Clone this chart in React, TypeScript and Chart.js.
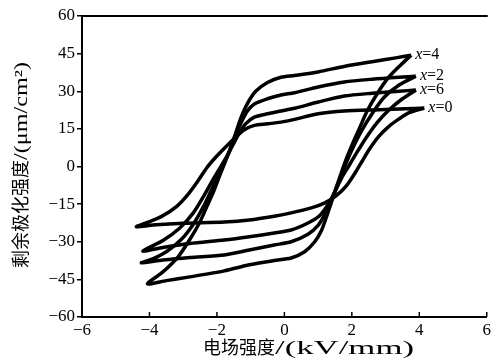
import React, { useEffect, useRef } from "react";
import { Chart, registerables } from "chart.js";

Chart.register(...registerables);

// ---- data ----
const xTickValues = [-6, -4, -2, 0, 2, 4, 6];
const yTickValues = [-60, -45, -30, -15, 0, 15, 30, 45, 60];
const loopNames = ["x=4", "x=2", "x=6", "x=0"];

const loopX4: number[][] = [
  [3.76, 44.4], [3.3, 43.3], [2.6, 41.8], [1.8, 40.0], [1.0, 37.7], [0.3, 36.3], [-0.1, 35.6],
  [-0.5, 33.5], [-0.85, 30], [-1.1, 25], [-1.3, 19], [-1.45, 13], [-1.6, 7], [-1.75, 2],
  [-1.9, -3], [-2.1, -10], [-2.3, -16], [-2.5, -22], [-2.8, -29], [-3.15, -36], [-3.6, -42],
  [-4.06, -46.8],
  [-3.5, -45.5], [-2.8, -44.0], [-1.78, -41.6], [-1.04, -39.2], [-0.3, -37.5], [0.2, -36.5],
  [0.6, -34], [0.9, -30], [1.1, -25.5], [1.25, -20], [1.4, -14], [1.55, -8], [1.7, -2],
  [1.85, 3.5], [2.05, 10], [2.25, 16], [2.45, 22], [2.75, 29], [3.1, 35.7], [3.45, 40.5],
  [3.76, 44.4],
];

const loopX2: number[][] = [
  [3.9, 36], [3.4, 35.6], [2.6, 34.8], [1.78, 33.7], [1.0, 31.7], [0.3, 29.4], [-0.1, 28.5],
  [-0.5, 27], [-0.89, 24.9], [-1.1, 22], [-1.3, 17], [-1.5, 11], [-1.65, 5.5], [-1.8, 1],
  [-1.95, -3.5], [-2.15, -9], [-2.4, -16], [-2.7, -23], [-3.05, -29], [-3.5, -34],
  [-3.9, -36.8], [-4.24, -38.4],
  [-3.6, -37.3], [-2.8, -36.3], [-1.78, -35.3], [-1.04, -33.3], [-0.3, -31.3], [0.2, -30],
  [0.7, -27], [1.0, -23.5], [1.2, -19], [1.4, -13.5], [1.55, -8], [1.7, -3], [1.85, 2],
  [2.05, 8], [2.3, 14.5], [2.6, 21], [2.95, 27.5], [3.4, 32.5], [3.9, 36],
];

const loopX6: number[][] = [
  [3.9, 30.5], [3.4, 30.0], [2.6, 29.2], [1.78, 28.1], [1.0, 25.7], [0.3, 23.2], [-0.1, 22.1],
  [-0.5, 21], [-0.89, 19.7], [-1.15, 17], [-1.35, 13], [-1.55, 8], [-1.75, 3], [-1.95, -1.5],
  [-2.15, -6], [-2.4, -12], [-2.7, -18.5], [-3.1, -24.5], [-3.6, -29.5], [-4.2, -33.7],
  [-3.6, -32.3], [-2.8, -30.7], [-1.78, -29.3], [-1.04, -28], [-0.3, -26.5], [0.2, -25.3],
  [0.7, -22.5], [1.05, -19.5], [1.3, -15], [1.5, -10], [1.7, -4.5], [1.9, 0], [2.1, 4.5],
  [2.4, 11], [2.75, 17.5], [3.1, 22.5], [3.5, 27], [3.9, 30.5],
];

const loopX0: number[][] = [
  [4.15, 23.3], [3.6, 23.0], [2.8, 22.6], [1.78, 22.1], [1.0, 21.0], [0.3, 18.8], [-0.1, 17.7],
  [-0.5, 17], [-0.89, 16.4], [-1.2, 14.5], [-1.5, 11], [-1.8, 7], [-2.05, 3.5], [-2.3, -0.5],
  [-2.55, -5.5], [-2.85, -11], [-3.2, -16], [-3.65, -20], [-4.1, -22.5], [-4.39, -24],
  [-3.8, -23.2], [-3.0, -22.6], [-1.78, -22.1], [-1.04, -21.3], [-0.3, -19.8], [0.2, -18.5],
  [0.8, -16.5], [1.2, -14.5], [1.55, -11.5], [1.85, -7.5], [2.1, -2.5], [2.3, 2], [2.5, 6.5],
  [2.8, 12], [3.1, 16], [3.4, 19], [3.7, 21.5], [4.15, 23.3],
];

const loops = [loopX4, loopX2, loopX6, loopX0];

const SERIF = "'Liberation Serif', 'Times New Roman', 'Noto Sans CJK SC', serif";
const minus = (v: number) => String(v).replace("-", "\u2212");

const decorPlugin = {
  id: "decor",
  afterDraw(chart: any) {
    const ctx = chart.ctx;
    const { left, right, top, bottom } = chart.chartArea;
    const xs = chart.scales.x;
    const ys = chart.scales.y;
    ctx.save();
    ctx.strokeStyle = "#000";
    ctx.lineWidth = 2;
    // top frame line
    ctx.beginPath();
    ctx.moveTo(left - 1, top);
    ctx.lineTo(right + 1, top);
    ctx.stroke();
    // inward x ticks
    ctx.lineWidth = 1.5;
    xTickValues.forEach((v) => {
      const px = xs.getPixelForValue(v);
      ctx.beginPath();
      ctx.moveTo(px, bottom);
      ctx.lineTo(px, bottom - 5);
      ctx.stroke();
    });
    // loop labels
    ctx.fillStyle = "#000";
    ctx.textBaseline = "middle";
    loops.forEach((loop, i) => {
      let tip = loop[0];
      loop.forEach((p) => { if (p[1] > tip[1]) tip = p; });
      const px = xs.getPixelForValue(tip[0]) + 4;
      const py = ys.getPixelForValue(tip[1]);
      const [a, b] = loopNames[i].split("=");
      ctx.font = "italic 16px " + SERIF;
      ctx.fillText(a, px, py);
      const w = ctx.measureText(a).width;
      ctx.font = "16px " + SERIF;
      ctx.fillText("=" + b, px + w, py);
    });
    // axis titles
    const drawTitle = (cjk: string, latin: string, latinWidth: number) => {
      ctx.font = "18px " + SERIF;
      ctx.textBaseline = "middle";
      ctx.textAlign = "left";
      const w1 = ctx.measureText(cjk).width;
      ctx.fillText(cjk, 0, 0);
      const w2 = ctx.measureText(latin).width;
      ctx.save();
      ctx.translate(w1, 0);
      ctx.scale(latinWidth / w2, 1);
      ctx.fillText(latin, 0, 0);
      ctx.restore();
      return w1 + latinWidth;
    };
    // x title
    ctx.save();
    ctx.translate(203, 349);
    drawTitle("电场强度", "/(kV/mm)", 139);
    ctx.restore();
    // y title
    ctx.save();
    ctx.translate(22, 268);
    ctx.rotate(-Math.PI / 2);
    drawTitle("剩余极化强度", "/(μm/cm²)", 98);
    ctx.restore();
    ctx.restore();
  },
};

export default function App() {
  const ref = useRef<HTMLCanvasElement>(null);
  useEffect(() => {
    if (!ref.current) return;
    const chart = new Chart(ref.current, {
      type: "scatter",
      data: {
        datasets: loops.map((loop, i) => ({
          label: loopNames[i],
          data: loop.map((p) => ({ x: p[0], y: p[1] })),
          showLine: true,
          borderColor: "#000",
          backgroundColor: "#000",
          borderWidth: 3.5,
          pointRadius: 0,
          tension: 0.25,
          fill: false,
        })),
      },
      options: {
        animation: false,
        responsive: false,
        events: [],
        layout: { padding: { top: 16, right: 7, left: 0, bottom: 0 } },
        plugins: { legend: { display: false }, tooltip: { enabled: false }, title: { display: false } },
        scales: {
          x: {
            type: "linear",
            min: -6,
            max: 6,
            afterBuildTicks: (s: any) => { s.ticks = xTickValues.map((v) => ({ value: v })); },
            afterFit: (s: any) => { s.height = 42; },
            grid: { display: true, drawOnChartArea: false, drawTicks: false },
            border: { display: true, color: "#000", width: 2 },
            ticks: {
              color: "#000",
              padding: 3,
              font: { family: SERIF, size: 17 },
              callback: (v: any) => minus(v),
              maxRotation: 0,
            },
          },
          y: {
            type: "linear",
            min: -60,
            max: 60,
            afterBuildTicks: (s: any) => { s.ticks = yTickValues.map((v) => ({ value: v })); },
            afterFit: (s: any) => { s.width = 82; },
            grid: { display: true, drawOnChartArea: false, drawTicks: true, tickLength: 5, color: "#000", lineWidth: 1.5 },
            border: { display: true, color: "#000", width: 2 },
            ticks: {
              color: "#000",
              padding: 2,
              font: { family: SERIF, size: 17 },
              callback: (v: any) => minus(v),
            },
          },
        },
      },
      plugins: [decorPlugin],
    });
    return () => chart.destroy();
  }, []);
  return (
    <div style={{ position: "absolute", left: 0, top: 0, width: 494, height: 359, background: "#fff" }}>
      <canvas ref={ref} width={494} height={359} />
    </div>
  );
}
